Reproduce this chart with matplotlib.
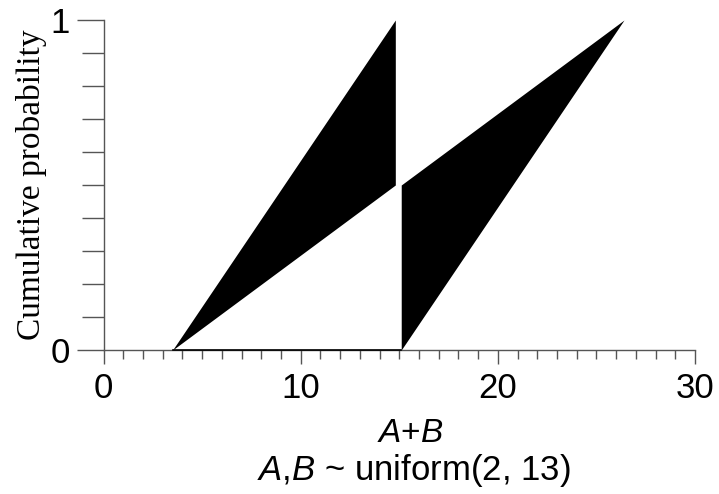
import matplotlib.pyplot as plt
from matplotlib.ticker import MultipleLocator

plt.rcParams['mathtext.fontset'] = 'custom'
plt.rcParams['mathtext.it'] = 'Liberation Sans:italic'
plt.rcParams['mathtext.rm'] = 'Liberation Sans'

# p-box bounds
left_x = [3.5, 14.8]
left_lower = [0.0, 0.5]
left_upper = [0.0, 1.0]

right_x = [15.1, 26.4]
right_lower = [0.0, 1.0]
right_upper = [0.5, 1.0]

x_major = [0, 10, 20, 30]
y_major = [0, 1]

fig = plt.figure(figsize=(7.19, 4.94), dpi=100)
ax = fig.add_axes([0.144, 0.2915, 0.8226, 0.668])

ax.fill_between(left_x, left_lower, left_upper, color='black', lw=0, clip_on=False)
ax.fill_between(right_x, right_lower, right_upper, color='black', lw=0, clip_on=False)
ax.plot([left_x[0], right_x[0]], [0, 0], color='black', lw=1.2, clip_on=False, zorder=5)

ax.set_xlim(0, 30)
ax.set_ylim(0, 1)

for s in ['top', 'right']:
    ax.spines[s].set_visible(False)
for s in ['left', 'bottom']:
    ax.spines[s].set_color('#555555')
    ax.spines[s].set_linewidth(1)

ax.set_xticks(x_major)
ax.set_yticks(y_major)
ax.xaxis.set_minor_locator(MultipleLocator(1))
ax.yaxis.set_minor_locator(MultipleLocator(0.1))

ax.tick_params(axis='x', which='major', length=10, width=1, color='#555555',
               labelsize=25, pad=6)
ax.tick_params(axis='x', which='minor', length=6.5, width=1, color='#555555')
ax.tick_params(axis='y', which='major', length=19.5, width=1, color='#555555',
               labelsize=25, pad=5)
ax.tick_params(axis='y', which='minor', length=16, width=1, color='#555555')
for lab in ax.get_xticklabels() + ax.get_yticklabels():
    lab.set_fontfamily('Liberation Sans')

ax.set_ylabel('Cumulative probability', fontfamily='Liberation Serif',
              fontsize=24, labelpad=2)

fig.text(0.570, 0.105, '$A$+$B$', ha='center', va='baseline',
         fontfamily='Liberation Sans', fontsize=24)
fig.text(0.576, 0.028, '$A$,$B$ ~ uniform(2, 13)', ha='center', va='baseline',
         fontfamily='Liberation Sans', fontsize=25)

plt.savefig('out.png', dpi=100)
